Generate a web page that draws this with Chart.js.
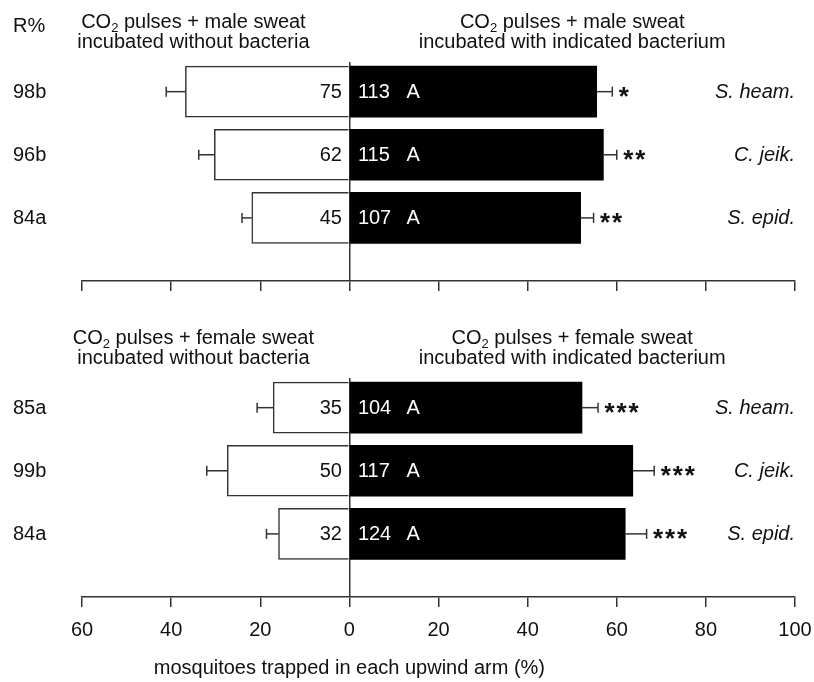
<!DOCTYPE html>
<html><head><meta charset="utf-8">
<script src="https://cdn.jsdelivr.net/npm/chart.js@4.4.0/dist/chart.umd.min.js"></script>
<style>
html,body{margin:0;padding:0;background:#fff;}
#wrap{position:relative;width:814px;height:682px;overflow:hidden;}
canvas{position:absolute;left:0;}
</style></head><body>
<div id="wrap">
<canvas id="cTop" width="814" height="300" style="top:0px"></canvas>
<canvas id="cBot" width="814" height="382" style="top:300px"></canvas>
</div>
<script>
// ---------- data ----------
const bacteria = ['S. heam.', 'C. jeik.', 'S. epid.'];
const xTickLabels = ['60', '40', '20', '0', '20', '40', '60', '80', '100'];
const xTitle = 'mosquitoes trapped in each upwind arm (%)';

const maleR = ['98b', '96b', '84a'];
const maleControl = [36.8, 30.3, 21.9];
const maleControlErr = [4.3, 3.5, 2.2];
const maleBact = [55.5, 57.0, 51.9];
const maleBactErr = [3.5, 3.0, 2.9];
const maleNControl = [75, 62, 45];
const maleNBact = [113, 115, 107];
const maleLetters = ['A', 'A', 'A'];
const maleSig = ['*', '**', '**'];

const femaleR = ['85a', '99b', '84a'];
const femaleControl = [17.1, 27.4, 15.9];
const femaleControlErr = [3.6, 4.6, 2.7];
const femaleBact = [52.2, 63.6, 61.9];
const femaleBactErr = [3.6, 4.8, 4.8];
const femaleNControl = [35, 50, 32];
const femaleNBact = [104, 117, 124];
const femaleLetters = ['A', 'A', 'A'];
const femaleSig = ['***', '***', '***'];

// ---------- drawing ----------
const FONT = '"Liberation Sans", Arial, Helvetica, sans-serif';
const TXT = '#111';
const LINE = '#333';

function drawCO2(ctx, cx, y, rest) {
  ctx.font = '20px ' + FONT;
  const w1 = ctx.measureText('CO').width;
  const w3 = ctx.measureText(rest).width;
  ctx.font = '13px ' + FONT;
  const w2 = ctx.measureText('2').width;
  let x = cx - (w1 + w2 + w3) / 2;
  ctx.textAlign = 'left';
  ctx.font = '20px ' + FONT;
  ctx.fillText('CO', x, y);
  ctx.font = '13px ' + FONT;
  ctx.fillText('2', x + w1, y + 4);
  ctx.font = '20px ' + FONT;
  ctx.fillText(rest, x + w1 + w2, y);
}

function makePanel(p) {
  return {
    id: 'panel_' + p.id,
    afterDatasetsDraw(chart) {
      const ctx = chart.ctx, xs = chart.scales.x, ys = chart.scales.y;
      const area = chart.chartArea;
      const x0 = xs.getPixelForValue(0);
      ctx.save();
      ctx.strokeStyle = LINE;
      ctx.lineWidth = 1.5;
      const ln = (a, b, c, d) => { ctx.beginPath(); ctx.moveTo(a, b); ctx.lineTo(c, d); ctx.stroke(); };
      p.control.forEach((v, i) => {
        const y = ys.getPixelForValue(i);
        // control error bar (left)
        const a = xs.getPixelForValue(-v), b = xs.getPixelForValue(-(v + p.controlErr[i]));
        ln(a, y, b, y); ln(b, y - 5, b, y + 5);
        // bacterium error bar (right)
        const c = xs.getPixelForValue(p.bact[i]), d = xs.getPixelForValue(p.bact[i] + p.bactErr[i]);
        ln(c, y, d, y); ln(d, y - 5, d, y + 5);
        // significance stars
        ctx.fillStyle = TXT;
        ctx.font = 'bold 26px ' + FONT;
        ctx.textAlign = 'left';
        ctx.textBaseline = 'alphabetic';
        for (let k = 0; k < p.sig[i].length; k++) {
          ctx.fillText('*', d + 6.5 + k * 12, y + 13.5);
        }
        // counts
        ctx.font = '20px ' + FONT;
        ctx.textBaseline = 'middle';
        ctx.textAlign = 'right';
        ctx.fillStyle = TXT;
        ctx.fillText(String(p.nControl[i]), x0 - 7.5, y + 1);
        ctx.textAlign = 'left';
        ctx.fillStyle = '#fff';
        ctx.fillText(String(p.nBact[i]), x0 + 8.5, y + 1);
        ctx.fillText(p.letters[i], x0 + 57, y + 1);
        // R% labels
        ctx.fillStyle = TXT;
        ctx.fillText(p.r[i], 13, y + 1);
        // bacterium names
        ctx.font = 'italic 20px ' + FONT;
        ctx.textAlign = 'right';
        ctx.fillText(bacteria[i], area.right, y + 1);
      });
      // titles
      ctx.fillStyle = TXT;
      ctx.textBaseline = 'alphabetic';
      const lx = xs.getPixelForValue(-35), rx = xs.getPixelForValue(50);
      drawCO2(ctx, lx, area.top - 34, p.titleA);
      drawCO2(ctx, rx, area.top - 34, p.titleA);
      ctx.font = '20px ' + FONT;
      ctx.textAlign = 'center';
      ctx.fillText('incubated without bacteria', lx, area.top - 14.5);
      ctx.fillText('incubated with indicated bacterium', rx, area.top - 14.5);
      if (p.showR) {
        ctx.textAlign = 'left';
        ctx.fillText('R%', 13, area.top - 30);
      }
      if (p.showTitle) {
        ctx.textAlign = 'center';
        ctx.fillText(xTitle, x0, area.bottom + 77);
      }
      ctx.restore();
    }
  };
}

function buildChart(canvasId, p, showLabels, padding) {
  const idx = p.control.map((_, i) => i);
  return new Chart(document.getElementById(canvasId), {
    type: 'bar',
    data: {
      datasets: [
        {
          data: idx.map(i => ({ x: -p.control[i], y: i })),
          backgroundColor: '#ffffff',
          borderColor: LINE,
          borderWidth: 1.5,
          barThickness: 51,
          grouped: false
        },
        {
          data: idx.map(i => ({ x: p.bact[i], y: i })),
          backgroundColor: '#000000',
          borderWidth: 0,
          barThickness: 51,
          grouped: false
        }
      ]
    },
    options: {
      indexAxis: 'y',
      responsive: false,
      animation: false,
      layout: { padding: padding },
      plugins: { legend: { display: false }, tooltip: { enabled: false }, title: { display: false } },
      scales: {
        x: {
          type: 'linear',
          min: -60, max: 100,
          border: { display: true, color: LINE, width: 1.5 },
          grid: {
            display: true,
            drawOnChartArea: true,
            drawTicks: true,
            tickLength: 10,
            color: c => (c.tick && c.tick.value === 0) ? LINE : 'rgba(0,0,0,0)',
            lineWidth: 1.5,
            tickColor: LINE,
            tickWidth: 1.5
          },
          ticks: {
            display: showLabels,
            stepSize: 20,
            autoSkip: false,
            maxRotation: 0,
            padding: 2,
            color: TXT,
            font: { family: FONT, size: 20, lineHeight: 2.1 },
            callback: (v, i) => xTickLabels[i]
          }
        },
        y: {
          type: 'linear',
          reverse: true,
          offset: false,
          min: -0.47, max: 3,
          display: false
        }
      }
    },
    plugins: [makePanel(p)]
  });
}

const male = {
  id: 'male', r: maleR, control: maleControl, controlErr: maleControlErr,
  bact: maleBact, bactErr: maleBactErr, nControl: maleNControl, nBact: maleNBact,
  letters: maleLetters, sig: maleSig, titleA: ' pulses + male sweat', showR: true, showTitle: false
};
const female = {
  id: 'female', r: femaleR, control: femaleControl, controlErr: femaleControlErr,
  bact: femaleBact, bactErr: femaleBactErr, nControl: femaleNControl, nBact: femaleNBact,
  letters: femaleLetters, sig: femaleSig, titleA: ' pulses + female sweat', showR: false, showTitle: true
};

buildChart('cTop', male, false, { top: 62, bottom: 9, left: 82, right: 19 });
buildChart('cBot', female, true, { top: 78, bottom: 29, left: 82, right: 19 });
</script>
</body></html>
